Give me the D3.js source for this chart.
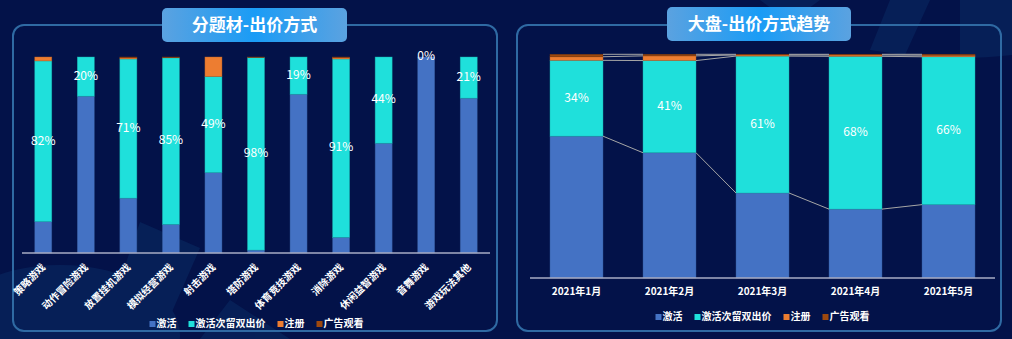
<!DOCTYPE html>
<html>
<head>
<meta charset="utf-8">
<script src="https://cdn.jsdelivr.net/npm/d3@7"></script>
<style>
  html, body { margin: 0; padding: 0; background: #031249; }
  svg { display: block; }
  text { font-family: "Noto Sans CJK SC", "Noto Sans", sans-serif; }
</style>
</head>
<body>
<svg id="chart" width="1012" height="339"></svg>
<script>
// ---- data ----
const seriesNames = ["激活", "激活次留双出价", "注册", "广告观看"];
const seriesColors = ["#4472c4", "#1fe0db", "#ed7d31", "#9e480e"];

// genre breakdown (%)
const genres = ["策略游戏", "动作冒险游戏", "放置挂机游戏", "模拟经营游戏", "射击游戏", "塔防游戏",
                "体育竞技游戏", "消除游戏", "休闲益智游戏", "音舞游戏", "游戏玩法其他"];
const genreActivate  = [16, 80, 28, 14.6, 41, 1.5, 81, 8, 56, 100, 79];
const genreRetention = [82, 20, 71, 85, 49, 98.2, 19, 91, 44, 0, 21];
const genreRegister  = [2, 0, 0.6, 0, 10, 0, 0, 0.7, 0, 0, 0];
const genreAdView    = [0, 0, 0.4, 0.4, 0, 0.3, 0, 0.3, 0, 0, 0];

// monthly trend (%)
const months = ["2021年1月", "2021年2月", "2021年3月", "2021年4月", "2021年5月"];
const monthActivate  = [63.4, 56, 38, 30.8, 32.8];
const monthRetention = [33.9, 41.2, 61.2, 68.3, 66.1];
const monthRegister  = [1.6, 2.1, 0.5, 0.6, 0.7];
const monthAdView    = [1.1, 0.7, 0.3, 0.3, 0.4];

const svg = d3.select("#chart");

// ---- background decoration ----
const deco = svg.append("g").attr("fill", "#0a2d66").attr("opacity", 0.5);
deco.append("ellipse").attr("cx", 60).attr("cy", 335).attr("rx", 120).attr("ry", 70);
deco.append("path").attr("d", "M140,222 L200,248 L160,339 L100,339 Z");
deco.append("path").attr("d", "M230,300 L290,339 L200,339 Z");
deco.append("path").attr("d", "M760,0 L820,0 L790,22 Z");
deco.append("path").attr("d", "M890,0 L930,0 L905,55 L870,50 Z");
deco.append("path").attr("d", "M960,0 L1012,0 L1012,55 Q985,58 960,58 Z");

// ---- panels ----
function panel(x0, x1, y0, y1, title, tx0, tx1, ty0, ty1) {
  svg.append("rect")
    .attr("x", x0).attr("y", y0).attr("width", x1 - x0).attr("height", y1 - y0)
    .attr("rx", 11).attr("fill", "none")
    .attr("stroke", "#2f6aa3").attr("stroke-width", 2);
  const id = "tg" + Math.round(x0);
  const grad = svg.append("defs").append("linearGradient").attr("id", id)
    .attr("x1", "0%").attr("x2", "100%").attr("y1", "0%").attr("y2", "0%");
  grad.append("stop").attr("offset", "0%").attr("stop-color", "#5ba2e0");
  grad.append("stop").attr("offset", "50%").attr("stop-color", "#1a9cf6");
  grad.append("stop").attr("offset", "100%").attr("stop-color", "#5ba2e0");
  svg.append("rect")
    .attr("x", tx0).attr("y", ty0).attr("width", tx1 - tx0).attr("height", ty1 - ty0)
    .attr("rx", 5).attr("fill", `url(#${id})`);
  svg.append("text")
    .attr("x", (tx0 + tx1) / 2).attr("y", (ty0 + ty1) / 2 + 1)
    .attr("text-anchor", "middle").attr("dominant-baseline", "middle")
    .attr("fill", "#fff").attr("font-size", 17).attr("font-weight", "bold")
    .text(title);
}
panel(13, 497, 25, 331, "分题材-出价方式", 162, 347, 8, 42);
panel(517, 1001, 25, 331, "大盘-出价方式趋势", 667, 851, 7, 41);

// ---- shared helpers ----
function buildRows(cats, arrs) {
  return cats.map((c, i) => {
    const r = { cat: c };
    seriesNames.forEach((s, k) => { r[s] = arrs[k][i]; });
    return r;
  });
}

function drawStack(g, rows, x, y) {
  const stacked = d3.stack().keys(seriesNames)(rows);
  stacked.forEach((layer, k) => {
    g.append("g").selectAll("rect").data(layer).join("rect")
      .attr("x", d => x(d.data.cat))
      .attr("width", x.bandwidth())
      .attr("y", d => y(d[1]))
      .attr("height", d => Math.max(0, y(d[0]) - y(d[1])))
      .attr("fill", seriesColors[k])
      .attr("stroke", d3.color(seriesColors[k]).darker(0.7))
      .attr("stroke-width", 0.6)
      .attr("stroke-opacity", 0.7);
  });
  return stacked;
}

function drawLabels(g, layer, x, y) {
  g.append("g").selectAll("text").data(layer).join("text")
    .attr("x", d => x(d.data.cat) + x.bandwidth() / 2)
    .attr("y", d => (y(d[0]) + y(d[1])) / 2)
    .attr("text-anchor", "middle").attr("dominant-baseline", "middle")
    .attr("fill", "#fff").attr("font-size", 12)
    .text(d => Math.round(d.data[seriesNames[1]]) + "%");
}

function drawLegend(cx, cy) {
  const g = svg.append("g");
  const widths = seriesNames.map(s => s.length * 10);
  const gap = 11, sq = 6;
  const total = d3.sum(widths) + seriesNames.length * (sq + 2) + gap * (seriesNames.length - 1);
  let px = cx - total / 2;
  seriesNames.forEach((s, k) => {
    g.append("rect").attr("x", px).attr("y", cy - sq / 2).attr("width", sq).attr("height", sq)
      .attr("fill", seriesColors[k]);
    g.append("text").attr("x", px + sq + 1).attr("y", cy)
      .attr("dominant-baseline", "middle").attr("fill", "#fff")
      .attr("font-size", 10).attr("font-weight", "bold").text(s);
    px += sq + 2 + widths[k] + gap;
  });
}

// ---- left chart: by genre ----
{
  const rows = buildRows(genres, [genreActivate, genreRetention, genreRegister, genreAdView]);
  const x = d3.scaleBand().domain(genres).range([22, 490]).paddingInner(0.6).paddingOuter(0.3);
  const y = d3.scaleLinear().domain([0, 100]).range([253, 57]);
  const g = svg.append("g");
  const stacked = drawStack(g, rows, x, y);
  drawLabels(g, stacked[1], x, y);

  const axis = g.append("g").attr("transform", "translate(0,253)")
    .call(d3.axisBottom(x).tickSize(0).tickPadding(0));
  axis.select(".domain").attr("stroke", "#a9adc4").attr("stroke-width", 1.5).attr("d", "M22,0H490");
  axis.selectAll(".tick text")
    .attr("fill", "#fff").attr("font-size", 10).attr("font-weight", "bold")
    .attr("text-anchor", "end")
    .attr("dy", null).attr("dominant-baseline", "middle")
    .attr("transform", "translate(1,13) rotate(-45)");

  drawLegend(257, 324);
}

// ---- right chart: monthly trend ----
{
  const rows = buildRows(months, [monthActivate, monthRetention, monthRegister, monthAdView]);
  const x = d3.scaleBand().domain(months).range([530, 995]).paddingInner(0.43).paddingOuter(0.215);
  const y = d3.scaleLinear().domain([0, 100]).range([278, 54.3]);
  const g = svg.append("g");
  const stacked = drawStack(g, rows, x, y);

  // series lines joining segment tops between neighbouring bars
  const lines = g.append("g").attr("stroke", "#a6a6a6").attr("stroke-width", 1).attr("fill", "none");
  stacked.forEach(layer => {
    for (let i = 0; i < layer.length - 1; i++) {
      const a = layer[i], b = layer[i + 1];
      lines.append("line")
        .attr("x1", x(a.data.cat) + x.bandwidth()).attr("y1", y(a[1]))
        .attr("x2", x(b.data.cat)).attr("y2", y(b[1]));
    }
  });

  drawLabels(g, stacked[1], x, y);

  const axis = g.append("g").attr("transform", "translate(0,278)")
    .call(d3.axisBottom(x).tickSize(0).tickPadding(10));
  axis.select(".domain").attr("stroke", "#a9adc4").attr("stroke-width", 1.5).attr("d", "M530,0H995");
  axis.selectAll(".tick text")
    .attr("fill", "#fff").attr("font-size", 10).attr("font-weight", "bold");

  drawLegend(763, 317);
}
</script>
</body>
</html>
